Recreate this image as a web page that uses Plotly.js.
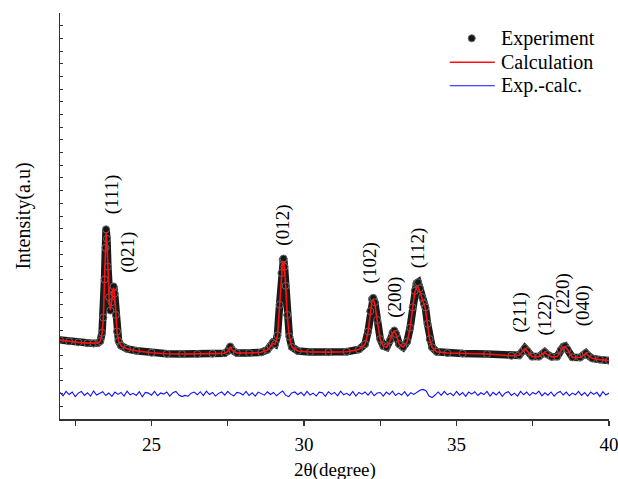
<!DOCTYPE html>
<html>
<head>
<meta charset="utf-8">
<script src="https://cdn.plot.ly/plotly-3.0.1.min.js"></script>
<style>html,body{margin:0;padding:0;background:#fff;}#chart{width:618px;height:479px;}</style>
</head>
<body>
<div id="chart"></div>
<script>
// 2-theta positions (degree)
const twoTheta = [22.0,22.3,22.6,22.9,23.1,23.25,23.32,23.38,23.42,23.46,23.49,23.51,23.54,23.57,23.61,23.65,23.69,23.73,23.76,23.79,23.83,23.87,23.92,24.0,24.2,24.5,25.0,25.5,26.0,26.5,27.0,27.4,27.5,27.58,27.66,27.8,28.2,28.6,28.8,28.9,28.97,29.05,29.13,29.2,29.26,29.3,29.33,29.36,29.4,29.45,29.52,29.6,29.8,30.2,30.8,31.4,31.8,32.0,32.1,32.17,32.23,32.27,32.32,32.4,32.5,32.6,32.71,32.82,32.9,32.96,33.02,33.12,33.25,33.38,33.48,33.56,33.63,33.69,33.74,33.8,33.87,33.93,33.98,34.05,34.12,34.2,34.35,34.7,35.2,36.0,36.8,37.05,37.15,37.24,37.33,37.48,37.7,37.82,37.89,37.97,38.12,38.3,38.42,38.5,38.56,38.64,38.8,39.05,39.17,39.24,39.32,39.45,39.7,40.0];
// Experimental intensity (a.u)
const experiment = [622,612,604,598,596,600,614,680,800,1100,1350,1495,1420,1200,960,855,920,1020,1045,990,820,690,615,578,553,538,522,514,512,512,515,518,535,572,540,520,520,526,545,575,600,590,660,900,1150,1255,1265,1200,1050,820,650,568,536,528,527,530,548,590,690,850,945,955,920,780,630,575,565,620,680,698,670,590,566,610,720,880,1010,1070,1078,1030,960,910,880,750,630,565,530,520,516,512,498,502,530,559,535,492,492,515,528,510,490,492,545,570,575,550,486,485,505,520,500,478,468,460];
// Calculated intensity (a.u)
const calculation = [622,612,604,598,596,600,612,675,790,1080,1330,1470,1400,1190,955,858,918,1015,1035,985,818,688,614,578,553,538,522,514,512,512,515,518,533,565,538,520,520,526,544,572,596,588,655,890,1135,1238,1245,1190,1045,818,650,568,536,528,527,530,548,588,685,840,932,940,910,775,628,574,565,618,676,692,666,590,566,608,715,870,995,1035,1040,1000,945,900,870,745,628,565,530,520,516,512,498,502,528,555,533,492,492,514,525,509,490,492,542,566,570,548,486,485,504,518,499,478,468,460];
// Difference curve (Exp.-calc.), sampled every 0.1 degree from 22.0 to 40.0, drawn with an offset
const diffStart = 22.0, diffStep = 0.1, diffOffset = 199;
const difference = [10,-16,19,-6,14,-22,5,18,-13,8,-19,22,-10,3,16,-14,6,-21,13,-5,
11,-18,21,-8,3,-13,16,-24,10,5,-11,19,-16,6,-3,14,-19,8,18,-10,
-22,-13,-19,5,13,-8,16,-14,21,-6,10,-18,3,14,-11,19,-5,-16,11,6,
-10,18,-14,8,-19,13,3,-11,16,-6,10,-16,5,22,-13,-22,6,14,-8,11,
-14,19,-10,5,-18,13,8,-21,16,-5,11,-16,21,-8,3,-13,18,-19,10,-3,
14,-11,19,-16,6,10,-18,13,-6,21,-14,5,-10,16,-19,8,-5,13,28,34,
24,-18,-30,-10,14,-13,18,-8,5,-16,19,-11,10,-21,13,-3,16,-14,8,-6,
19,-18,11,-10,14,-21,6,16,-13,5,-19,18,-8,13,-14,10,-3,21,-16,8,
-11,14,-19,6,18,-10,13,-16,5,-8,19,-13,10,-18,14,-5,11,-21,16,-10,
6];
// Peak labels
const peakLabels = ['(111)','(021)','(012)','(102)','(200)','(112)','(211)','(122)','(220)','(040)'];
const peakLabelX = [23.71,24.25,29.33,32.16,32.96,33.74,37.10,37.89,38.49,39.13];
const peakLabelY = [1772,1315,1528,1233,957,1347,835,820,990,892];
// Legend entries
const legendNames = ['Experiment', 'Calculation', 'Exp.-calc.'];
const legendColors = ['#151515', '#ff1010', '#1010ff'];

const diffX = difference.map((_, i) => +(diffStart + i*diffStep).toFixed(2));
const diffY = difference.map(v => v + diffOffset);

const FONT = 'Liberation Serif, Times New Roman, serif';

const traces = [
  {x: twoTheta, y: experiment, mode: 'lines', line: {color: '#1a1a1a', width: 7.5}, showlegend: false, hoverinfo: 'skip'},
  {x: twoTheta, y: experiment, mode: 'markers', name: legendNames[0], showlegend: false,
   marker: {symbol: 'circle', size: 7, color: '#151515', line: {color: '#6a6a6a', width: 1}}},
  {x: twoTheta, y: calculation, mode: 'lines', name: legendNames[1], showlegend: false, line: {color: legendColors[1], width: 1.6}},
  {x: diffX, y: diffY, mode: 'lines', name: legendNames[2], showlegend: false, line: {color: legendColors[2], width: 1.1}}
];

const annotations = peakLabels.map((t, i) => ({
  text: t, x: peakLabelX[i], y: peakLabelY[i], xref: 'x', yref: 'y',
  showarrow: false, textangle: -90, xanchor: 'center', yanchor: 'middle',
  font: {family: FONT, size: 19, color: '#000'}
}));

// custom legend (paper coordinates)
const legRowY = [0.9377, 0.8787, 0.8208];
legendNames.forEach((n, i) => {
  annotations.push({text: n, x: 0.80, y: legRowY[i], xref: 'paper', yref: 'paper', showarrow: false,
    xanchor: 'left', yanchor: 'middle', font: {family: FONT, size: 20, color: '#000'}});
});
// x-axis title as annotation, close to the page bottom like the reference
annotations.push({text: '2θ(degree)', x: 0.5, y: -0.1255, xref: 'paper', yref: 'paper', showarrow: false,
  xanchor: 'center', yanchor: 'middle', borderpad: 0, font: {family: FONT, size: 19, color: '#000'}});

const shapes = [
  {type: 'circle', xref: 'paper', yref: 'paper', x0: 0.75 - 0.0064, x1: 0.75 + 0.0064,
   y0: legRowY[0] - 0.0087, y1: legRowY[0] + 0.0087, fillcolor: legendColors[0], line: {color: '#6a6a6a', width: 1}},
  {type: 'line', xref: 'paper', yref: 'paper', x0: 0.710, x1: 0.792, y0: legRowY[1], y1: legRowY[1],
   line: {color: legendColors[1], width: 1.3}},
  {type: 'line', xref: 'paper', yref: 'paper', x0: 0.710, x1: 0.792, y0: legRowY[2], y1: legRowY[2],
   line: {color: legendColors[2], width: 1.1}}
];

const layout = {
  width: 618, height: 479,
  margin: {l: 59.5, r: 8.5, t: 12.7, b: 60},
  paper_bgcolor: '#fff', plot_bgcolor: '#fff',
  font: {family: FONT, size: 19, color: '#000'},
  showlegend: false,
  xaxis: {range: [22, 40], showline: true, linecolor: '#333', linewidth: 1.5, mirror: false,
          ticks: 'outside', ticklen: 5, tickwidth: 1.2, tickcolor: '#333',
          tickmode: 'array', tickvals: [25, 30, 35, 40], ticktext: ['25','30','35','40'],
          minor: {tickmode: 'linear', tick0: 22.5, dtick: 2.5, ticks: 'outside', ticklen: 5, tickwidth: 1.2, tickcolor: '#333'},
          ticklabelstandoff: 3, ticklabeloverflow: 'allow',
          showgrid: false, zeroline: false,
          tickfont: {family: FONT, size: 19, color: '#000'}},
  yaxis: {range: [0, 3200], showline: true, linecolor: '#333', linewidth: 1.5,
          ticks: 'inside', ticklen: 3, tickwidth: 1, tickcolor: '#333', tickmode: 'linear', tick0: 0, dtick: 100,
          showticklabels: false, showgrid: false, zeroline: false,
          title: {text: 'Intensity(a.u)', font: {family: FONT, size: 20, color: '#000'}, standoff: 22}},
  xaxis2: {range: [22, 40], overlaying: 'x', side: 'top', anchor: 'y', showline: true, linecolor: '#333', linewidth: 1.5,
           ticks: 'inside', ticklen: 4, tickwidth: 1, tickcolor: '#333', tickmode: 'linear', tick0: 22.5, dtick: 2.5,
           showticklabels: false, showgrid: false, zeroline: false},
  yaxis2: {range: [0, 3200], overlaying: 'y', side: 'right', anchor: 'x', showline: true, linecolor: '#333', linewidth: 1.5,
           ticks: 'outside', ticklen: 3, tickwidth: 1, tickcolor: '#333', tickmode: 'linear', tick0: 0, dtick: 100,
           showticklabels: false, showgrid: false, zeroline: false},
  annotations: annotations,
  shapes: shapes
};

Plotly.newPlot('chart', traces, layout, {staticPlot: true, displayModeBar: false});
</script>
</body>
</html>
